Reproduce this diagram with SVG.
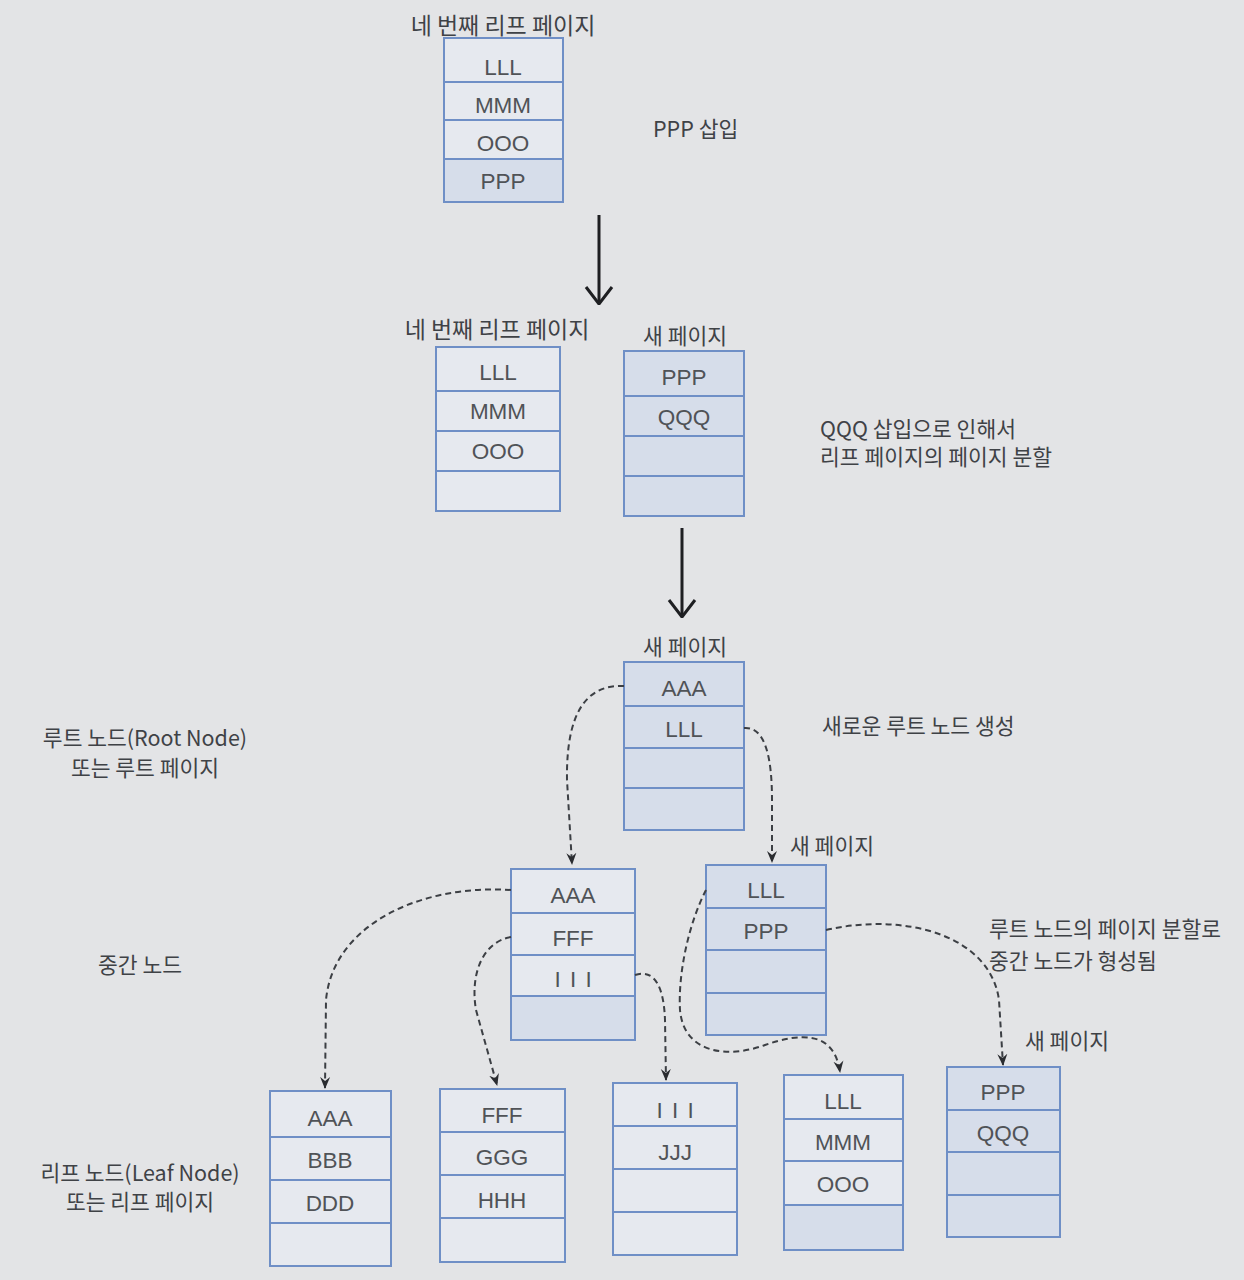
<svg xmlns="http://www.w3.org/2000/svg" width="1244" height="1280" viewBox="0 0 1244 1280">
<defs>
<style>
.bg{fill:#e3e4e6}
.c{fill:#e6e9ef;stroke:#6f8fc6;stroke-width:2}
.n{fill:#d6ddea;stroke:#6f8fc6;stroke-width:2}
.t{font-family:"Liberation Sans","Noto Sans",sans-serif;font-size:22.5px;fill:#505357;text-anchor:middle}
.i{letter-spacing:1.5px}
.k{font-family:"Noto Sans CJK KR","Noto Sans",sans-serif;font-size:21.5px;fill:#3f4246}
.big{font-size:23px}
.m{text-anchor:middle}
.d{fill:none;stroke:#3c3f44;stroke-width:2;stroke-dasharray:6 4}
.s{fill:none;stroke:#1e1f22;stroke-width:3}
</style>
<marker id="ah" viewBox="0 0 12 12" refX="11" refY="6" markerWidth="12" markerHeight="12" markerUnits="userSpaceOnUse" orient="auto">
<path d="M0,1 L12,6 L0,11 L4,6 z" fill="#2a2c30"/>
</marker>
<marker id="vh" viewBox="0 0 20 30" refX="19" refY="15" markerWidth="20" markerHeight="30" markerUnits="userSpaceOnUse" orient="auto">
<path d="M2,2 L19,15 L2,28" fill="none" stroke="#1e1f22" stroke-width="3"/>
</marker>
</defs>
<rect class="bg" x="0" y="0" width="1244" height="1280"/>

<g id="page4-before">
<text class="k big m" x="503" y="34">네 번째 리프 페이지</text>
<rect class="c" x="444" y="38" width="119" height="44"/>
<rect class="c" x="444" y="82" width="119" height="38"/>
<rect class="c" x="444" y="120" width="119" height="39"/>
<rect class="n" x="444" y="159" width="119" height="43"/>
<text class="t" x="503" y="75">LLL</text>
<text class="t" x="503" y="113">MMM</text>
<text class="t" x="503" y="151">OOO</text>
<text class="t" x="503" y="189">PPP</text>
</g>
<text class="k" x="653" y="137">PPP 삽입</text>

<g id="page4-split">
<text class="k big m" x="497" y="338">네 번째 리프 페이지</text>
<rect class="c" x="436" y="347" width="124" height="44"/>
<rect class="c" x="436" y="391" width="124" height="40"/>
<rect class="c" x="436" y="431" width="124" height="40"/>
<rect class="c" x="436" y="471" width="124" height="40"/>
<text class="t" x="498" y="380">LLL</text>
<text class="t" x="498" y="419">MMM</text>
<text class="t" x="498" y="459">OOO</text>
</g>

<g id="newpage-split">
<text class="k m" x="685" y="344">새 페이지</text>
<rect class="n" x="624" y="351" width="120" height="45"/>
<rect class="n" x="624" y="396" width="120" height="40"/>
<rect class="n" x="624" y="436" width="120" height="40"/>
<rect class="n" x="624" y="476" width="120" height="40"/>
<text class="t" x="684" y="385">PPP</text>
<text class="t" x="684" y="425">QQQ</text>
</g>
<text class="k" x="820" y="437">QQQ 삽입으로 인해서</text>
<text class="k" x="820" y="465">리프 페이지의 페이지 분할</text>

<g id="root">
<text class="k m" x="685" y="655">새 페이지</text>
<rect class="n" x="624" y="662" width="120" height="44"/>
<rect class="n" x="624" y="706" width="120" height="42"/>
<rect class="n" x="624" y="748" width="120" height="40"/>
<rect class="n" x="624" y="788" width="120" height="42"/>
<text class="t" x="684" y="696">AAA</text>
<text class="t" x="684" y="737">LLL</text>
</g>
<text class="k" x="822" y="734">새로운 루트 노드 생성</text>

<g id="mid-left">
<rect class="c" x="511" y="869" width="124" height="44"/>
<rect class="c" x="511" y="913" width="124" height="42"/>
<rect class="c" x="511" y="955" width="124" height="41"/>
<rect class="n" x="511" y="996" width="124" height="44"/>
<text class="t" x="573" y="903">AAA</text>
<text class="t" x="573" y="946">FFF</text>
<text class="t i" x="574" y="987">I I I</text>
</g>

<g id="mid-right">
<text class="k" x="790" y="854">새 페이지</text>
<rect class="n" x="706" y="865" width="120" height="43"/>
<rect class="n" x="706" y="908" width="120" height="42"/>
<rect class="n" x="706" y="950" width="120" height="43"/>
<rect class="n" x="706" y="993" width="120" height="42"/>
<text class="t" x="766" y="898">LLL</text>
<text class="t" x="766" y="939">PPP</text>
</g>
<text class="k" x="989" y="937">루트 노드의 페이지 분할로</text>
<text class="k" x="989" y="969">중간 노드가 형성됨</text>

<g id="leaf1">
<rect class="c" x="270" y="1091" width="121" height="46"/>
<rect class="c" x="270" y="1137" width="121" height="43"/>
<rect class="c" x="270" y="1180" width="121" height="43"/>
<rect class="c" x="270" y="1223" width="121" height="43"/>
<text class="t" x="330" y="1126">AAA</text>
<text class="t" x="330" y="1168">BBB</text>
<text class="t" x="330" y="1211">DDD</text>
</g>

<g id="leaf2">
<rect class="c" x="440" y="1089" width="125" height="43"/>
<rect class="c" x="440" y="1132" width="125" height="43"/>
<rect class="c" x="440" y="1175" width="125" height="43"/>
<rect class="c" x="440" y="1218" width="125" height="44"/>
<text class="t" x="502" y="1123">FFF</text>
<text class="t" x="502" y="1165">GGG</text>
<text class="t" x="502" y="1208">HHH</text>
</g>

<g id="leaf3">
<rect class="c" x="613" y="1083" width="124" height="43"/>
<rect class="c" x="613" y="1126" width="124" height="43"/>
<rect class="c" x="613" y="1169" width="124" height="43"/>
<rect class="c" x="613" y="1212" width="124" height="43"/>
<text class="t i" x="676" y="1118">I I I</text>
<text class="t" x="675" y="1160">JJJ</text>
</g>

<g id="leaf4">
<rect class="c" x="784" y="1075" width="119" height="44"/>
<rect class="c" x="784" y="1119" width="119" height="42"/>
<rect class="c" x="784" y="1161" width="119" height="44"/>
<rect class="n" x="784" y="1205" width="119" height="45"/>
<text class="t" x="843" y="1109">LLL</text>
<text class="t" x="843" y="1150">MMM</text>
<text class="t" x="843" y="1192">OOO</text>
</g>

<g id="leaf5">
<text class="k" x="1025" y="1049">새 페이지</text>
<rect class="n" x="947" y="1067" width="113" height="43"/>
<rect class="n" x="947" y="1110" width="113" height="42"/>
<rect class="n" x="947" y="1152" width="113" height="43"/>
<rect class="n" x="947" y="1195" width="113" height="42"/>
<text class="t" x="1003" y="1100">PPP</text>
<text class="t" x="1003" y="1141">QQQ</text>
</g>

<g id="side-labels">
<text class="k m" x="145" y="746">루트 노드(Root Node)</text>
<text class="k m" x="145" y="776">또는 루트 페이지</text>
<text class="k m" x="140" y="973">중간 노드</text>
<text class="k m" x="140" y="1181">리프 노드(Leaf Node)</text>
<text class="k m" x="140" y="1210">또는 리프 페이지</text>
</g>

<g id="connectors">
<path class="s" d="M599,215 L599,304" marker-end="url(#vh)"/>
<path class="s" d="M682,528 L682,617" marker-end="url(#vh)"/>
<path class="d" d="M624,686 C585,684 566,715 567,780 L572,864" marker-end="url(#ah)"/>
<path class="d" d="M744,728 C766,726 772,760 772,800 L772,862" marker-end="url(#ah)"/>
<path class="d" d="M511,890 C420,884 333,925 326,1000 L325,1088" marker-end="url(#ah)"/>
<path class="d" d="M511,937 C482,942 470,975 476,1010 L497,1085" marker-end="url(#ah)"/>
<path class="d" d="M635,975 C656,968 664,990 665,1020 L666,1080" marker-end="url(#ah)"/>
<path class="d" d="M706,890 C688,925 678,975 680,1010 C684,1055 730,1058 765,1045 C800,1033 834,1030 840,1072" marker-end="url(#ah)"/>
<path class="d" d="M826,930 C905,912 990,935 999,1000 L1003,1065" marker-end="url(#ah)"/>
</g>
</svg>
